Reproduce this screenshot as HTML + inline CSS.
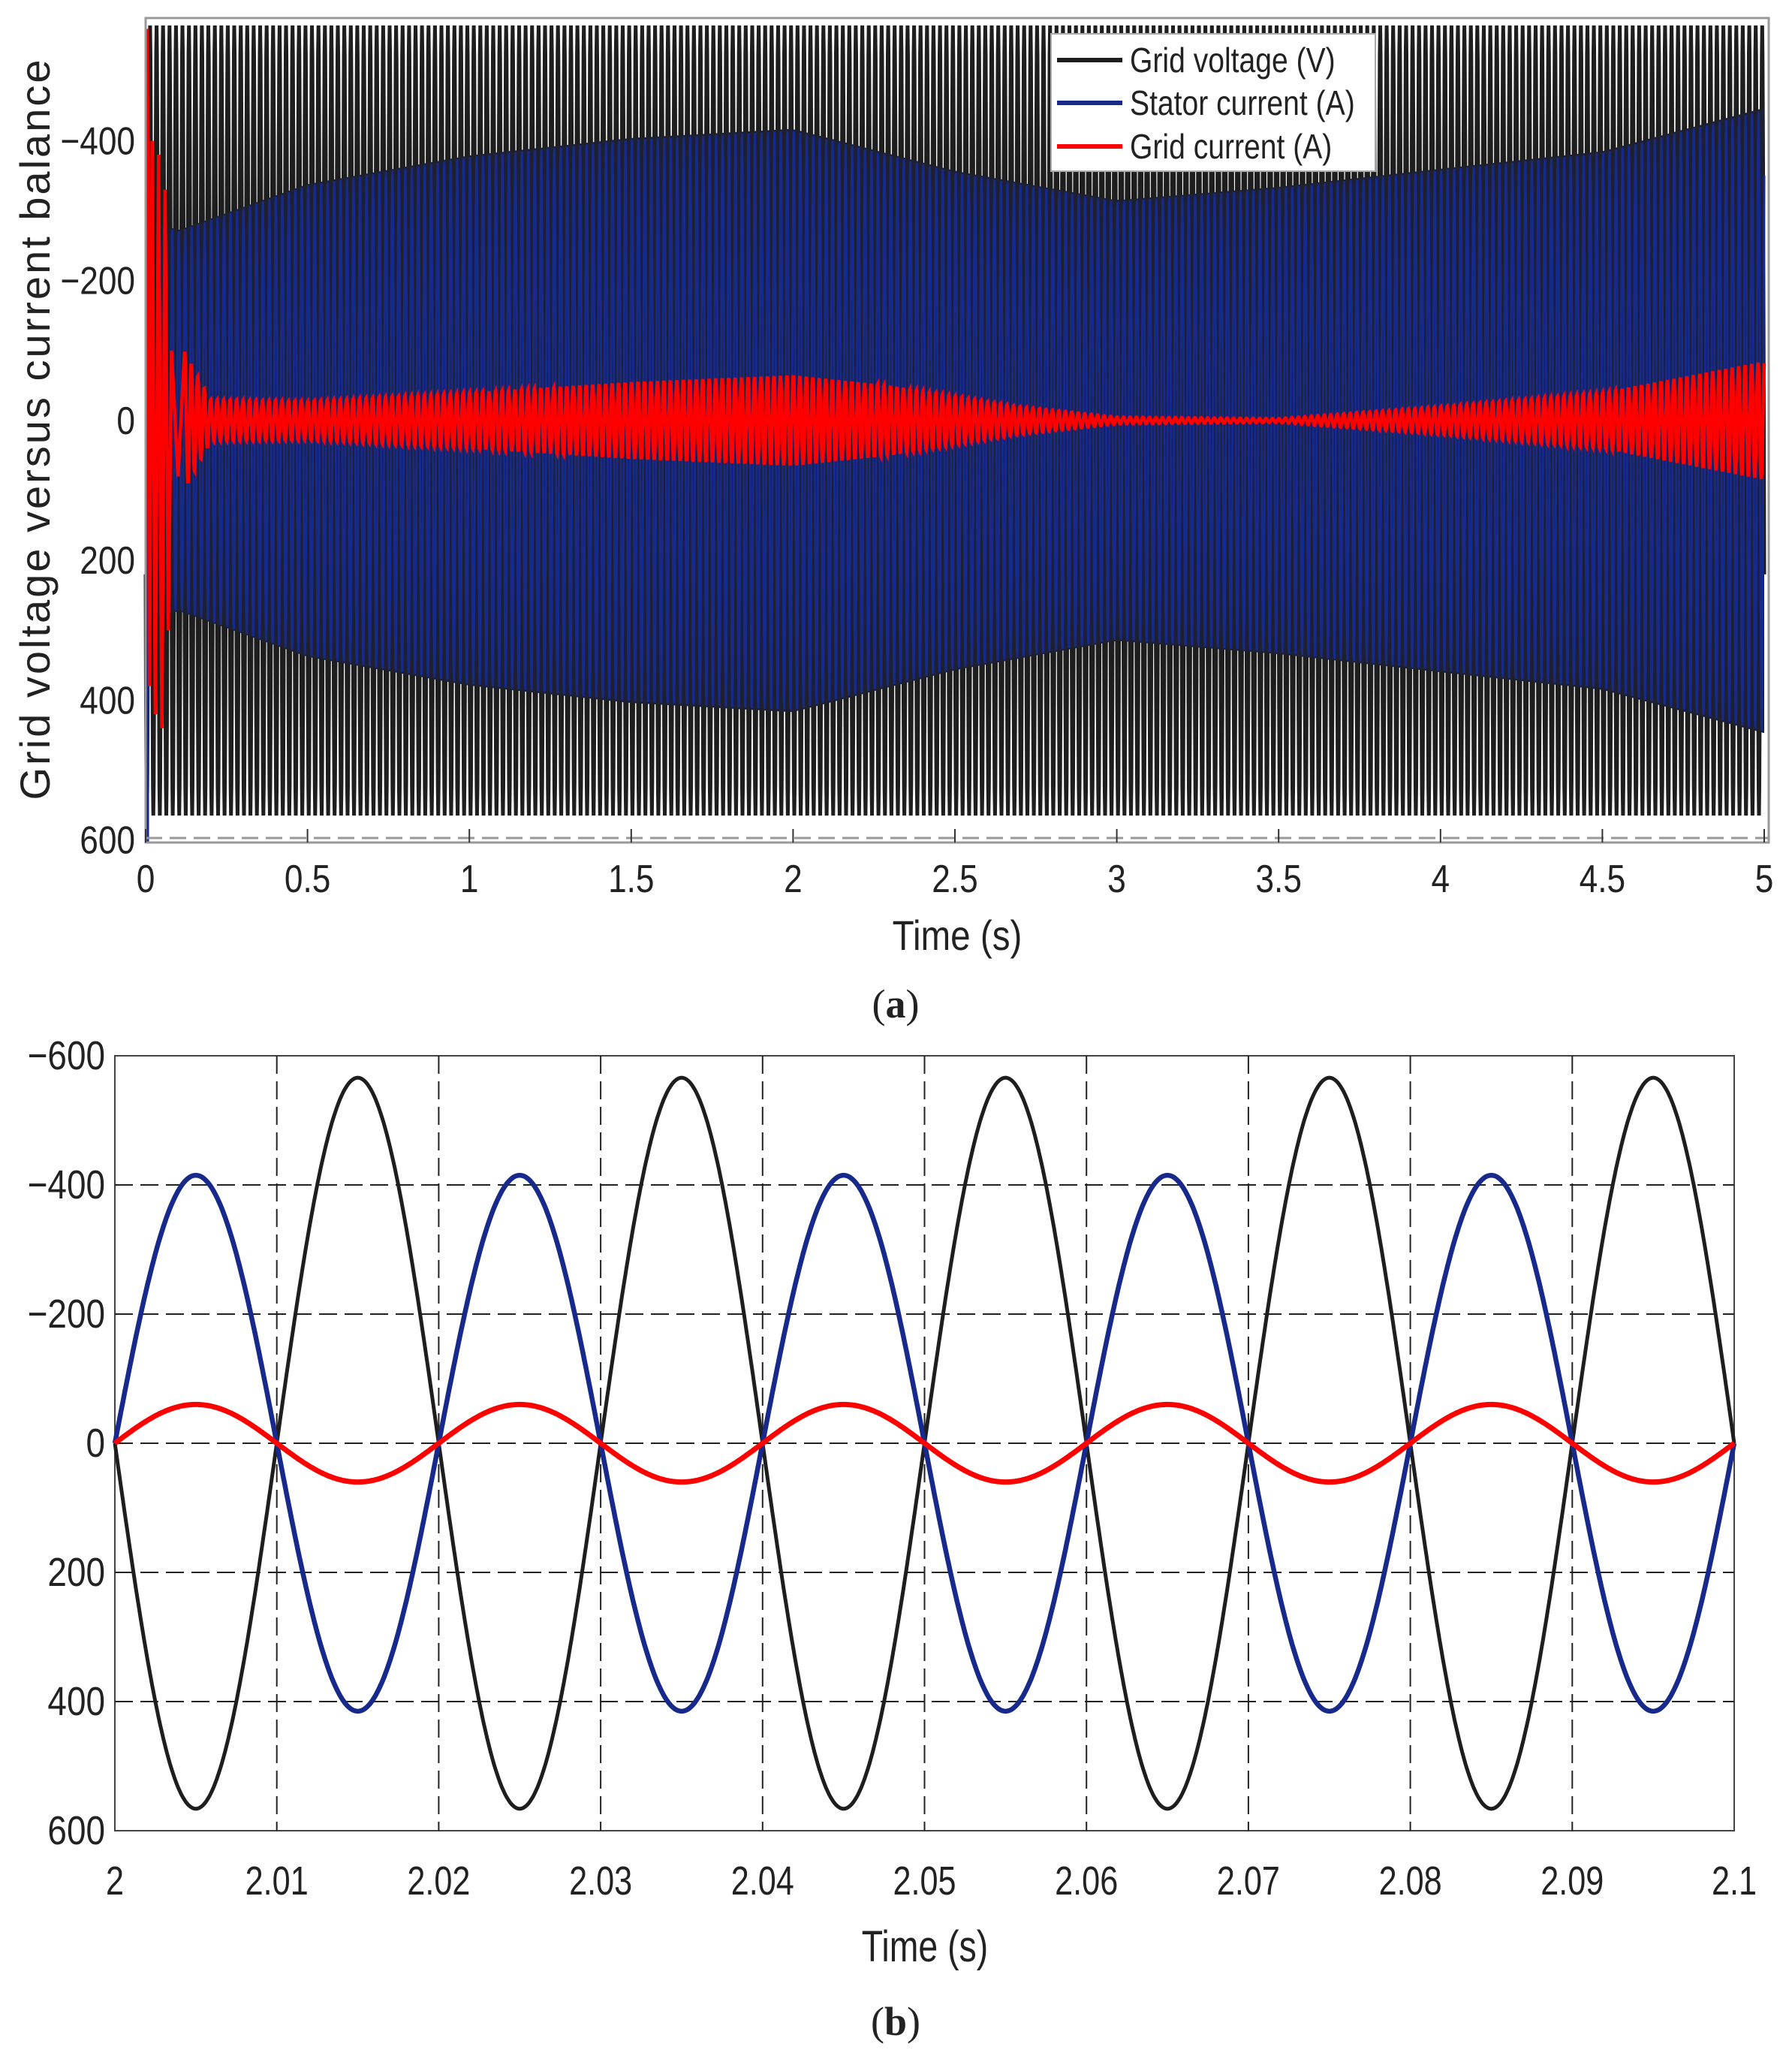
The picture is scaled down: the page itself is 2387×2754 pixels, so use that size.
<!DOCTYPE html>
<html><head><meta charset="utf-8"><style>
html,body{margin:0;padding:0;background:#fff;}
svg{display:block;}
text{font-family:"Liberation Sans",sans-serif;fill:#222;}
</style></head><body>
<svg id="fig" width="2387" height="2754" viewBox="0 0 2387 2754" xmlns="http://www.w3.org/2000/svg">
<g id="pa"></g>
<g id="pb"></g>
</svg>
<script>
// ---------- Panel (a) data ----------
const aXTicks = [0,0.5,1,1.5,2,2.5,3,3.5,4,4.5,5];
const aXTickLabels = ["0","0.5","1","1.5","2","2.5","3","3.5","4","4.5","5"];
const aYTicks = [-400,-200,0,200,400,600];
const aYTickLabels = ["\u2212400","\u2212200","0","200","400","600"];
const freqHz = 50;
const voltageAmp = 565;
const statorEnvT = [0.05,0.1,0.5,1,1.5,2,2.5,3,3.5,4,4.5,5];
const statorEnvV = [280,272,338,379,404,417,357,315,334,360,385,447];
const gridEnvT = [0.12,0.2,0.5,1,1.5,2,2.3,2.7,3,3.5,4,4.5,5];
const gridEnvV = [100,30,28,40,55,65,50,20,5,3,20,40,85];
const transientT = [0.005,0.012,0.02,0.03,0.04,0.05,0.06,0.07,0.08,0.1];
const transientV = [-560,380,-400,420,-380,440,-330,300,-100,80];
const legendLabels = ["Grid voltage (V)","Stator current (A)","Grid current (A)"];
const seriesColors = ["#1e1e1e","#17298a","#ff0000"];
// ---------- Panel (b) data ----------
const bXTicks = [2,2.01,2.02,2.03,2.04,2.05,2.06,2.07,2.08,2.09,2.1];
const bXTickLabels = ["2","2.01","2.02","2.03","2.04","2.05","2.06","2.07","2.08","2.09","2.1"];
const bYTicks = [-600,-400,-200,0,200,400,600];
const bYTickLabels = ["\u2212600","\u2212400","\u2212200","0","200","400","600"];
const bAmps = [566, -415, -60]; // voltage, stator current, grid current

const NS="http://www.w3.org/2000/svg";
function mk(parent,tag,attrs){const e=document.createElementNS(NS,tag);for(const k in attrs)e.setAttribute(k,attrs[k]);parent.appendChild(e);return e;}
function interp(ts,vs,t){if(t<=ts[0])return vs[0];for(let i=1;i<ts.length;i++){if(t<=ts[i]){const f=(t-ts[i-1])/(ts[i]-ts[i-1]);return vs[i-1]+f*(vs[i]-vs[i-1]);}}return vs[vs.length-1];}

// ---------- Panel A ----------
(function(){
const g=document.getElementById('pa');
const L=194,R=2350,T=24,B=1122;
const xs=t=>L+(t-0)/(5-0)*(R-L);
const y0=560, k=(933-188)/800;
const ys=v=>y0+v*k;
let pts=[];const N=250*16;
for(let i=0;i<=N;i++){const t=i/N*5;pts.push(xs(t).toFixed(1)+","+ys(voltageAmp*Math.sin(2*Math.PI*freqHz*t+0.4)).toFixed(1));}
let e=mk(g,'polyline',{points:pts.join(' '),fill:'none',stroke:seriesColors[0],'stroke-width':5});


let up=[],dn=[];
for(let i=0;i<=200;i++){const t=0.03+i/200*4.97;const a=interp(statorEnvT,statorEnvV,t);up.push(xs(t).toFixed(1)+","+ys(-a).toFixed(1));dn.unshift(xs(t).toFixed(1)+","+ys(a).toFixed(1));}
e=mk(g,'polygon',{points:up.concat(dn).join(' '),fill:'#1d2030'});


pts=[];
for(let i=0;i<=N;i++){const t=i/N*5;const a=t<0.03?0:interp(statorEnvT,statorEnvV,t);pts.push(xs(t).toFixed(1)+","+ys(-a*Math.sin(2*Math.PI*freqHz*t+0.9)).toFixed(1));}
e=mk(g,'polyline',{points:pts.join(' '),fill:'none',stroke:seriesColors[1],'stroke-width':3});


e=mk(g,'line',{x1:L+2,y1:ys(0),x2:L+2,y2:B,stroke:seriesColors[1],'stroke-width':5});


pts=[];
for(let i=0;i<transientT.length;i++)pts.push(xs(transientT[i]).toFixed(1)+","+ys(transientV[i]).toFixed(1));
for(let i=0;i<=N;i++){const t=i/N*5;if(t<0.12)continue;const a=interp(gridEnvT,gridEnvV,t);pts.push(xs(t).toFixed(1)+","+ys(-a*Math.sin(2*Math.PI*freqHz*t+1.3)).toFixed(1));}
e=mk(g,'polyline',{points:pts.join(' '),fill:'none',stroke:seriesColors[2],'stroke-width':4.5});


e=mk(g,'line',{x1:L,y1:B-6,x2:R+6,y2:B-6,stroke:'#999','stroke-width':3,'stroke-dasharray':'22 10'});


e=mk(g,'rect',{x:L,y:T,width:R+6-L,height:B-T,fill:'none',stroke:'#999','stroke-width':3});


aXTicks.forEach((t,i)=>{
 let l=mk(g,'line',{x1:xs(t),y1:B,x2:xs(t),y2:B-18,stroke:'#333','stroke-width':2});
 
 
 let tx=mk(g,'text',{x:xs(t),y:1188,'text-anchor':'middle','font-size':52,transform:`translate(${xs(t)},0) scale(0.85,1) translate(${-xs(t)},0)`});
 tx.textContent=aXTickLabels[i];
 
 
});
aYTicks.forEach((v,i)=>{
 let tx=mk(g,'text',{x:180,y:ys(v)+18,'text-anchor':'end','font-size':52,transform:`translate(180,0) scale(0.85,1) translate(-180,0)`});
 tx.textContent=aYTickLabels[i];
 
 
});
let tx=mk(g,'text',{x:1275,y:1265,'text-anchor':'middle','font-size':56,transform:'translate(1275,0) scale(0.85,1) translate(-1275,0)'});
tx.textContent='Time (s)';


tx=mk(g,'text',{x:0,y:0,'text-anchor':'middle','font-size':56,'letter-spacing':3,transform:'translate(66,571) rotate(-90)'});
tx.textContent='Grid voltage versus current balance';


const lg=mk(g,'g',{});


e=mk(lg,'rect',{x:1400,y:45,width:432,height:183,fill:'#fff',stroke:'#aaa','stroke-width':2});


const ly=[80,137,195];
legendLabels.forEach((s,i)=>{
 let l=mk(lg,'line',{x1:1408,y1:ly[i],x2:1495,y2:ly[i],stroke:seriesColors[i],'stroke-width':6});
 
 
 let t=mk(lg,'text',{x:1505,y:ly[i]+16,'font-size':46,transform:'translate(1505,0) scale(0.85,1) translate(-1505,0)'});
 t.textContent=s;
 
 
});
tx=mk(g,'text',{x:1193,y:1355,'text-anchor':'middle','font-size':54,style:'font-family:"Liberation Serif",serif'});
tx.innerHTML='(<tspan font-weight="bold">a</tspan>)';


})();

// ---------- Panel B ----------
(function(){
const g=document.getElementById('pb');
const L=153,R=2310,T=1406,B=2438;
const xs=t=>L+(t-2)/(0.1)*(R-L);
const ys=v=>T+(v+600)/1200*(B-T);
let e=mk(g,'rect',{x:L,y:T,width:R-L,height:B-T,fill:'#fff',stroke:'#444','stroke-width':2});


bXTicks.forEach((t,i)=>{
 if(i>0&&i<bXTicks.length-1){let l=mk(g,'line',{x1:xs(t),y1:T,x2:xs(t),y2:B,stroke:'#222','stroke-width':2,'stroke-dasharray':'24 10'});
 
 }
 let tx=mk(g,'text',{x:xs(t),y:2523,'text-anchor':'middle','font-size':54,transform:`translate(${xs(t)},0) scale(0.8,1) translate(${-xs(t)},0)`});
 tx.textContent=bXTickLabels[i];
 
 
});
bYTicks.forEach((v,i)=>{
 if(i>0&&i<bYTicks.length-1){let l=mk(g,'line',{x1:L,y1:ys(v),x2:R,y2:ys(v),stroke:'#222','stroke-width':2,'stroke-dasharray':'24 10'});
 
 }
 let tx=mk(g,'text',{x:140,y:ys(v)+18,'text-anchor':'end','font-size':54,transform:'translate(140,0) scale(0.85,1) translate(-140,0)'});
 tx.textContent=bYTickLabels[i];
 
 
});
const names=['grid-voltage-line-b','stator-current-line-b','grid-current-line-b'];
const widths=[5,6.5,7];
bAmps.forEach((a,si)=>{
 let pts=[];for(let i=0;i<=1000;i++){const t=2+i/1000*0.1;pts.push(xs(t).toFixed(1)+","+ys(a*Math.sin(2*Math.PI*freqHz*(t-2))).toFixed(1));}
 let p=mk(g,'polyline',{points:pts.join(' '),fill:'none',stroke:seriesColors[si],'stroke-width':widths[si]});
 
 
});
let tx=mk(g,'text',{x:1232,y:2612,'text-anchor':'middle','font-size':58,transform:'translate(1232,0) scale(0.8,1) translate(-1232,0)'});
tx.textContent='Time (s)';


tx=mk(g,'text',{x:1193,y:2710,'text-anchor':'middle','font-size':54,style:'font-family:"Liberation Serif",serif'});
tx.innerHTML='(<tspan font-weight="bold">b</tspan>)';


})();
</script>
</body></html>
